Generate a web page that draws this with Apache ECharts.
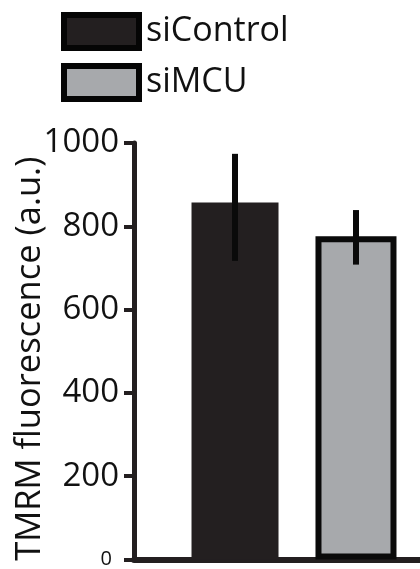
<!DOCTYPE html>
<html>
<head>
<meta charset="utf-8">
<script src="https://cdn.jsdelivr.net/npm/echarts@6/dist/echarts.min.js"></script>
<style>
html,body{margin:0;padding:0;background:#fff;}
#c{width:420px;height:569px;}
</style>
</head>
<body>
<div id="c"></div>
<script>
// ---- data ----
var categories = ['TMRM'];
var seriesNames = ['siControl', 'siMCU'];
var meanValues = [857, 776];
var errLow = [717, 708];
var errHigh = [974, 839];
var yTicks = [0, 200, 400, 600, 800, 1000];
var yAxisTitle = 'TMRM fluorescence (a.u.)';

// ---- layout constants ----
var FONT = '"Open Sans", "Noto Sans", sans-serif';
var BW0 = 87, BW1 = 81, GAP = 0.425;
var total = BW0 * (1 + GAP) + BW1;
var barCenters = [-total / 2 + BW0 / 2, -total / 2 + BW0 * (1 + GAP) + BW1 / 2];

var chart = echarts.init(document.getElementById('c'), null, {renderer: 'canvas'});

var errData = meanValues.map(function (v, i) { return [categories[0], errLow[i], errHigh[i], i]; });
var yMin = yTicks[0], yMax = yTicks[yTicks.length - 1], yStep = yTicks[1] - yTicks[0];
var plain = function (v) { return String(v); };

chart.setOption({
  animation: false,
  backgroundColor: '#ffffff',
  grid: {left: 134, right: -34, top: 143, bottom: 9.5, containLabel: false, outerBoundsMode: 'none'},
  legend: {
    orient: 'vertical',
    left: 61, top: 12, padding: 0,
    icon: 'rect',
    itemWidth: 75, itemHeight: 33,
    itemGap: 12,
    selectedMode: false,
    textStyle: {fontFamily: FONT, fontSize: 34, color: '#111', lineHeight: 33, padding: [0, 0, 0, 2]},
    data: [
      {name: seriesNames[0], itemStyle: {color: '#231f20', borderColor: '#050505', borderWidth: 6}},
      {name: seriesNames[1], itemStyle: {color: '#a7a9ac', borderColor: '#050505', borderWidth: 6}}
    ]
  },
  xAxis: {
    type: 'category',
    data: categories,
    axisLine: {show: true, lineStyle: {color: '#231f20', width: 6}},
    axisTick: {show: false},
    axisLabel: {show: false},
    splitLine: {show: false}
  },
  yAxis: [
    {
      type: 'value',
      min: yMin, max: yMax, interval: yStep,
      name: yAxisTitle,
      nameLocation: 'middle',
      nameGap: 86,
      nameRotate: 90,
      nameMoveOverlap: false,
      nameTextStyle: {fontFamily: FONT, fontSize: 34.5, color: '#111', padding: [0, 15, 0, 0]},
      axisLine: {show: true, lineStyle: {color: '#231f20', width: 5}},
      axisTick: {show: true, inside: false, length: 10, lineStyle: {color: '#231f20', width: 4}},
      axisLabel: {
        show: true, margin: 15, showMinLabel: true, showMaxLabel: true,
        customValues: yTicks.slice(1),
        formatter: plain,
        fontFamily: FONT, fontSize: 33, color: '#111'
      },
      splitLine: {show: false}
    },
    {
      type: 'value', position: 'left', offset: 0,
      min: yMin, max: yMax, interval: yStep,
      axisLine: {show: false},
      axisTick: {show: false},
      axisLabel: {
        show: true, margin: 22, showMinLabel: true, showMaxLabel: false,
        customValues: yTicks.slice(0, 1),
        formatter: plain,
        align: 'right',
        fontFamily: FONT, fontSize: 20, color: '#111'
      },
      splitLine: {show: false}
    }
  ],
  series: [
    {
      name: seriesNames[0], type: 'bar', barWidth: BW0, barGap: (GAP * 100) + '%',
      data: [meanValues[0]],
      itemStyle: {color: '#231f20'}
    },
    {
      name: seriesNames[1], type: 'bar', barWidth: BW1, barGap: (GAP * 100) + '%',
      data: [meanValues[1]],
      itemStyle: {color: '#a7a9ac', borderColor: '#0a0a0a', borderWidth: 6}
    },
    {
      name: 'err', type: 'custom', z: 10,
      data: errData,
      encode: {x: 0, y: [1, 2]},
      renderItem: function (params, api) {
        var lo = api.coord([api.value(0), api.value(1)]);
        var hi = api.coord([api.value(0), api.value(2)]);
        var x = lo[0] + barCenters[api.value(3)];
        return {
          type: 'line',
          shape: {x1: x, y1: lo[1], x2: x, y2: hi[1]},
          style: {stroke: '#0a0a0a', lineWidth: 6}
        };
      }
    }
  ]
});
</script>
</body>
</html>
